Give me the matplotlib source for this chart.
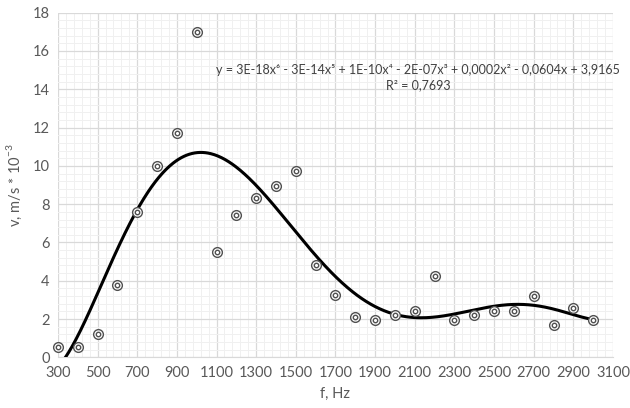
import numpy as np
import matplotlib
matplotlib.use("Agg")
import matplotlib.pyplot as plt

# frequency (Hz) and velocity (m/s * 10^-3)
freq = [300, 400, 500, 600, 700, 800, 900, 1000, 1100, 1200, 1300, 1400, 1500, 1600,
        1700, 1800, 1900, 2000, 2100, 2200, 2300, 2400, 2500, 2600, 2700, 2800, 2900, 3000]
vel = [0.52, 0.56, 1.24, 3.77, 7.58, 10.0, 11.73, 17.01, 5.5, 7.42, 8.3, 8.95, 9.72, 4.84,
       3.27, 2.1, 1.95, 2.21, 2.4, 4.23, 1.95, 2.22, 2.4, 2.4, 3.19, 1.67, 2.59, 1.95]

# values of the Excel 6th order trendline
trend_f = [342, 400, 500, 600, 700, 800, 900, 1032, 1100, 1200, 1300, 1400, 1500, 1600,
           1700, 1800, 1900, 2000, 2100, 2200, 2300, 2400, 2500, 2600, 2700, 2800, 2900, 3000]
trend_v = [0.0, 1.25, 3.34, 5.6, 7.61, 9.44, 10.31, 10.62, 10.52, 9.9, 9.09, 7.8, 6.65, 5.26,
           4.13, 3.2, 2.7, 2.33, 2.16, 2.1, 2.26, 2.47, 2.62, 2.73, 2.73, 2.56, 2.26, 1.95]

eq_text = "y = 3E-18x⁶ - 3E-14x⁵ + 1E-10x⁴ - 2E-07x³ + 0,0002x² - 0,0604x + 3,9165"
r2_text = "R² = 0,7693"

plt.rcParams['font.family'] = ['Lato', 'DejaVu Sans']
gray = '#595959'

fig = plt.figure(figsize=(6.3, 4.08), dpi=100)
ax = fig.add_axes([0.092, 0.124, 0.881, 0.845])

# trendline: 6th order polynomial through the read curve values
p = np.polynomial.Polynomial.fit(trend_f, trend_v, 6)
xs = np.linspace(300, 3000, 600)
ax.plot(xs, p(xs), color='black', lw=2.2, zorder=3)

# double-ring markers (not clipped, like Excel)
ax.plot(freq, vel, ls='none', marker='o', ms=7, mfc='white', mec='#505050', mew=1.0,
        zorder=4, clip_on=False)
ax.plot(freq, vel, ls='none', marker='o', ms=3.2, mfc='none', mec='#505050', mew=1.0,
        zorder=5, clip_on=False)

ax.set_xlim(300, 3100)
ax.set_ylim(0, 18)
ax.set_xticks(range(300, 3101, 200))
ax.set_xticks(range(300, 3101, 40), minor=True)
ax.set_yticks(range(0, 19, 2))
ax.set_yticks(np.arange(0, 18.01, 0.4), minor=True)
ax.grid(which='major', color='#d9d9d9', lw=0.9)
ax.grid(which='minor', color='#f0f0f0', lw=0.7)
ax.set_axisbelow(True)
for s in ['top', 'right', 'left']:
    ax.spines[s].set_visible(False)
ax.spines['bottom'].set_color('#d9d9d9')
ax.tick_params(which='both', length=0, labelsize=10.5, colors=gray, pad=6)

ax.set_xlabel('f, Hz', fontsize=10.5, color=gray, labelpad=5)
ax.set_ylabel(r'v, m/s * 10$^{\mathregular{-3}}$', fontsize=10.5, color=gray, labelpad=6)

ax.text(2116, 15.0, eq_text, ha='center', va='center', fontsize=9, color='#404040')
ax.text(2116, 14.2, r2_text, ha='center', va='center', fontsize=9, color='#404040')

fig.savefig('out.png', dpi=100)
